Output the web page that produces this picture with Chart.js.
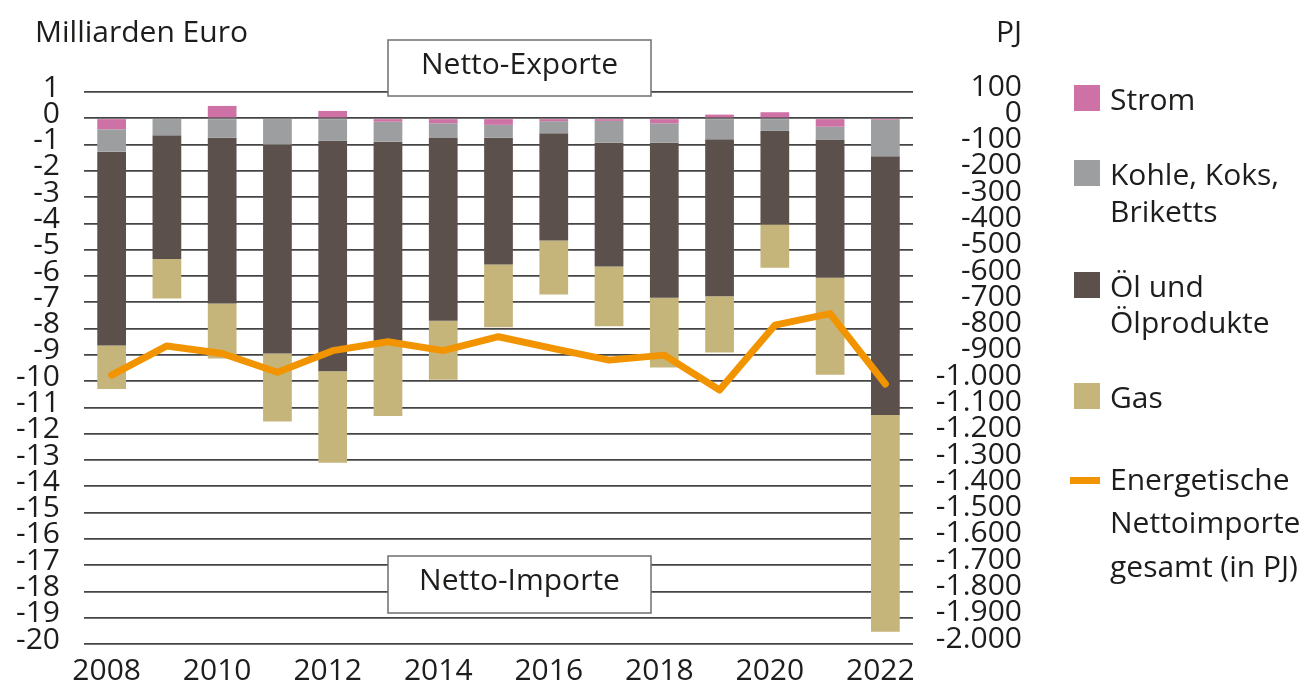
<!DOCTYPE html>
<html><head><meta charset="utf-8">
<script src="https://cdn.jsdelivr.net/npm/chart.js@4.4.1/dist/chart.umd.min.js"></script>
<style>html,body{margin:0;padding:0;background:#fff}#wrap{width:1311px;height:691px;position:relative}</style>
</head><body><div id="wrap"><canvas id="c" width="1311" height="691"></canvas></div>
<script>
const years = ['2008','2009','2010','2011','2012','2013','2014','2015','2016','2017','2018','2019','2020','2021','2022'];
const strom  = [-0.42,-0.03, 0.47,-0.03, 0.28,-0.13,-0.19,-0.25,-0.11,-0.10,-0.19, 0.14, 0.23,-0.32,-0.06];
const kohle  = [-0.85,-0.62,-0.74,-0.97,-0.86,-0.76,-0.56,-0.49,-0.46,-0.83,-0.74,-0.80,-0.48,-0.49,-1.38];
const oel    = [-7.37,-4.70,-6.31,-7.95,-8.76,-7.61,-6.95,-4.82,-4.08,-4.71,-5.90,-5.97,-3.56,-5.26,-9.85];
const gas    = [-1.66,-1.51,-2.09,-2.59,-3.48,-2.83,-2.25,-2.39,-2.05,-2.27,-2.65,-2.14,-1.65,-3.69,-8.24];
const nettoPJ = [-977,-866,-895,-966,-884,-850,-884,-831,-876,-920,-901,-1034,-787,-743,-1011];
const leftTicks = {min:-20, max:1, step:1};
const rightTicks = {min:-2000, max:100, step:100};

const C = {strom:'#CE72A5', kohle:'#9D9E9F', oel:'#5B504B', gas:'#C6B57A', line:'#F29400', text:'#1d1d1b', grid:'#454545'};
const FONT = "'Open Sans', sans-serif";

function fmtDe(v){
  const s = Math.abs(v).toString().replace(/\B(?=(\d{3})+(?!\d))/g,'.');
  return (v<0?'-':'') + s;
}

const overlay = {
  id:'overlay',
  afterDatasetsDraw(chart){
    const ctx = chart.ctx;
    ctx.save();
    const boxes = [
      {x:388, y:40, w:263, h:56, t:'Netto-Exporte'},
      {x:388, y:556, w:263, h:57, t:'Netto-Importe'}
    ];
    ctx.font = '30px ' + FONT;
    boxes.forEach(b=>{
      ctx.fillStyle = '#fff';
      ctx.fillRect(b.x, b.y, b.w, b.h);
      ctx.strokeStyle = '#6f6f6f';
      ctx.lineWidth = 1.5;
      ctx.strokeRect(b.x, b.y, b.w, b.h);
      ctx.fillStyle = C.text;
      ctx.textAlign = 'center';
      ctx.textBaseline = 'middle';
      ctx.fillText(b.t, b.x + b.w/2, b.y + b.h/2 - 3);
    });
    ctx.restore();
  },
  afterDraw(chart){
    const ctx = chart.ctx;
    ctx.save();
    ctx.font = '30px ' + FONT;
    ctx.fillStyle = C.text;
    ctx.textBaseline = 'alphabetic';
    ctx.textAlign = 'left';
    ctx.fillText('Milliarden Euro', 35, 42);
    ctx.textAlign = 'right';
    ctx.fillText('PJ', 1022, 42);
    // legend
    const lx = 1074, tx = 1110;
    const items = [
      {c:C.strom, sq:85, lines:[['Strom',110]]},
      {c:C.kohle, sq:160, lines:[['Kohle, Koks,',185],['Briketts',222]]},
      {c:C.oel, sq:272, lines:[['Öl und',297],['Ölprodukte',333]]},
      {c:C.gas, sq:383, lines:[['Gas',408]]}
    ];
    ctx.textAlign = 'left';
    items.forEach(it=>{
      ctx.fillStyle = it.c;
      ctx.fillRect(lx, it.sq, 26, 26);
      ctx.fillStyle = C.text;
      it.lines.forEach(l=>ctx.fillText(l[0], tx, l[1]));
    });
    ctx.fillStyle = C.line;
    ctx.fillRect(1070, 477, 30, 7);
    ctx.fillStyle = C.text;
    [['Energetische',490],['Nettoimporte',533],['gesamt (in PJ)',577]].forEach(l=>ctx.fillText(l[0], tx, l[1]));
    ctx.restore();
  }
};

Chart.defaults.font.family = FONT;
Chart.defaults.font.size = 30;
Chart.defaults.color = C.text;

const barCommon = {type:'bar', yAxisID:'y', stack:'s', order:1, barPercentage:0.52, categoryPercentage:1, borderWidth:0};

new Chart(document.getElementById('c'), {
  data:{
    labels: years,
    datasets:[
      Object.assign({label:'Strom', data:strom, backgroundColor:C.strom}, barCommon),
      Object.assign({label:'Kohle, Koks, Briketts', data:kohle, backgroundColor:C.kohle}, barCommon),
      Object.assign({label:'Öl und Ölprodukte', data:oel, backgroundColor:C.oel}, barCommon),
      Object.assign({label:'Gas', data:gas, backgroundColor:C.gas}, barCommon),
      {type:'line', label:'Energetische Nettoimporte gesamt (in PJ)', data:nettoPJ, yAxisID:'y2', order:0,
       borderColor:C.line, borderWidth:7, pointRadius:0, tension:0, fill:false, borderCapStyle:'round', borderJoinStyle:'round'}
    ]
  },
  options:{
    responsive:false,
    animation:false,
    layout:{padding:{left:0, right:289, top:92, bottom:0}},
    plugins:{legend:{display:false}, tooltip:{enabled:false}},
    scales:{
      x:{
        stacked:true,
        grid:{display:false, drawTicks:false},
        border:{display:false},
        ticks:{autoSkip:false, maxRotation:0, padding:9, labelOffset:-5,
          callback:(v,i)=> (i%2===0 ? years[i] : '')},
        afterFit:(s)=>{s.height = 47;}
      },
      y:{
        position:'left', stacked:true,
        min:leftTicks.min, max:leftTicks.max,
        grid:{color:C.grid, lineWidth:1.7, drawTicks:false},
        border:{display:false},
        ticks:{stepSize:leftTicks.step, padding:24, labelOffset:-4, autoSkip:false,
          callback:(v)=>String(v)},
        afterFit:(s)=>{s.width = 84;}
      },
      y2:{
        position:'right',
        min:rightTicks.min, max:rightTicks.max,
        grid:{display:false, drawTicks:false},
        border:{display:false},
        ticks:{stepSize:rightTicks.step, crossAlign:'far', labelOffset:-5, autoSkip:false,
          callback:(v)=>fmtDe(v)},
        afterFit:(s)=>{s.width = 109;}
      }
    }
  },
  plugins:[overlay]
});
</script>
</body></html>
